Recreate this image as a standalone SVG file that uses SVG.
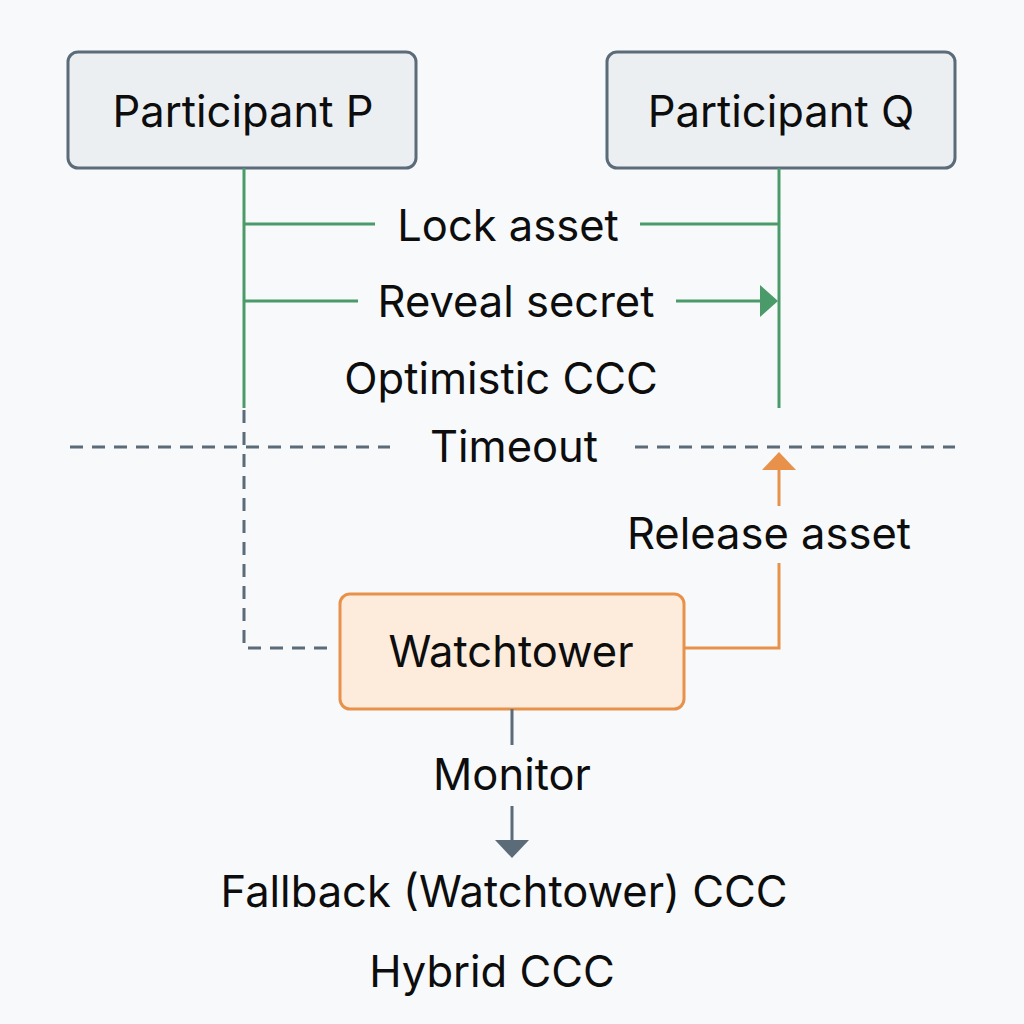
<svg xmlns="http://www.w3.org/2000/svg" width="1024" height="1024" viewBox="0 0 1024 1024">
<style>
.t{font-family:Inter,"Liberation Sans",sans-serif;font-size:43.5px;fill:#0d0d0d;text-anchor:middle}
.part{fill:#eceff2;stroke:#5b6b78;stroke-width:3}
.wt{fill:#fdebdc;stroke:#e8914a;stroke-width:3}
.g{stroke:#4a9a6a;stroke-width:3;fill:none}
.d{stroke:#5b6b78;stroke-width:3;fill:none;stroke-dasharray:13 9}
.o{stroke:#e8914a;stroke-width:3;fill:none}
.s{stroke:#5b6b78;stroke-width:3;fill:none}
</style>
<rect width="1024" height="1024" fill="#f7f9fb"/>
<g id="participant-p"><rect class="part" x="68" y="52" width="348" height="116" rx="10"/><text class="t" x="243" y="127">Participant P</text></g>
<g id="participant-q"><rect class="part" x="607" y="52" width="348" height="116" rx="10"/><text class="t" x="781" y="127">Participant Q</text></g>
<g id="watchtower"><rect class="wt" x="340" y="594" width="344" height="115" rx="10"/><text class="t" x="511" y="667">Watchtower</text></g>
<g id="connectors">
<line class="g" x1="244" y1="168" x2="244" y2="408"/>
<line class="g" x1="779" y1="168" x2="779" y2="408"/>
<line class="g" x1="244" y1="224" x2="375" y2="224"/>
<line class="g" x1="640" y1="224" x2="779" y2="224"/>
<line class="g" x1="244" y1="301" x2="358" y2="301"/>
<line class="g" x1="676" y1="301" x2="762" y2="301"/>
<polygon points="760,285 778,301 760,317" fill="#4a9a6a"/>
<line class="d" x1="70" y1="447" x2="390" y2="447"/>
<line class="d" x1="635" y1="447" x2="955" y2="447"/>
<polyline class="d" points="244,410 244,648 328,648"/>
<polyline class="o" points="684,648 779,648 779,563"/>
<line class="o" x1="779" y1="506" x2="779" y2="468"/>
<polygon points="762,470 779,452 796,470" fill="#e8914a"/>
<line class="s" x1="512" y1="709" x2="512" y2="745"/>
<line class="s" x1="512" y1="806" x2="512" y2="842"/>
<polygon points="495,840 529,840 512,858" fill="#5b6b78"/>
</g>
<g id="labels">
<text class="t" x="508" y="241">Lock asset</text>
<text class="t" x="516" y="317">Reveal secret</text>
<text class="t" x="501" y="394">Optimistic CCC</text>
<text class="t" x="514" y="462">Timeout</text>
<text class="t" x="769" y="549">Release asset</text>
<text class="t" x="512" y="790">Monitor</text>
<text class="t" x="504" y="907">Fallback (Watchtower) CCC</text>
<text class="t" x="492" y="987">Hybrid CCC</text>
</g>
</svg>
